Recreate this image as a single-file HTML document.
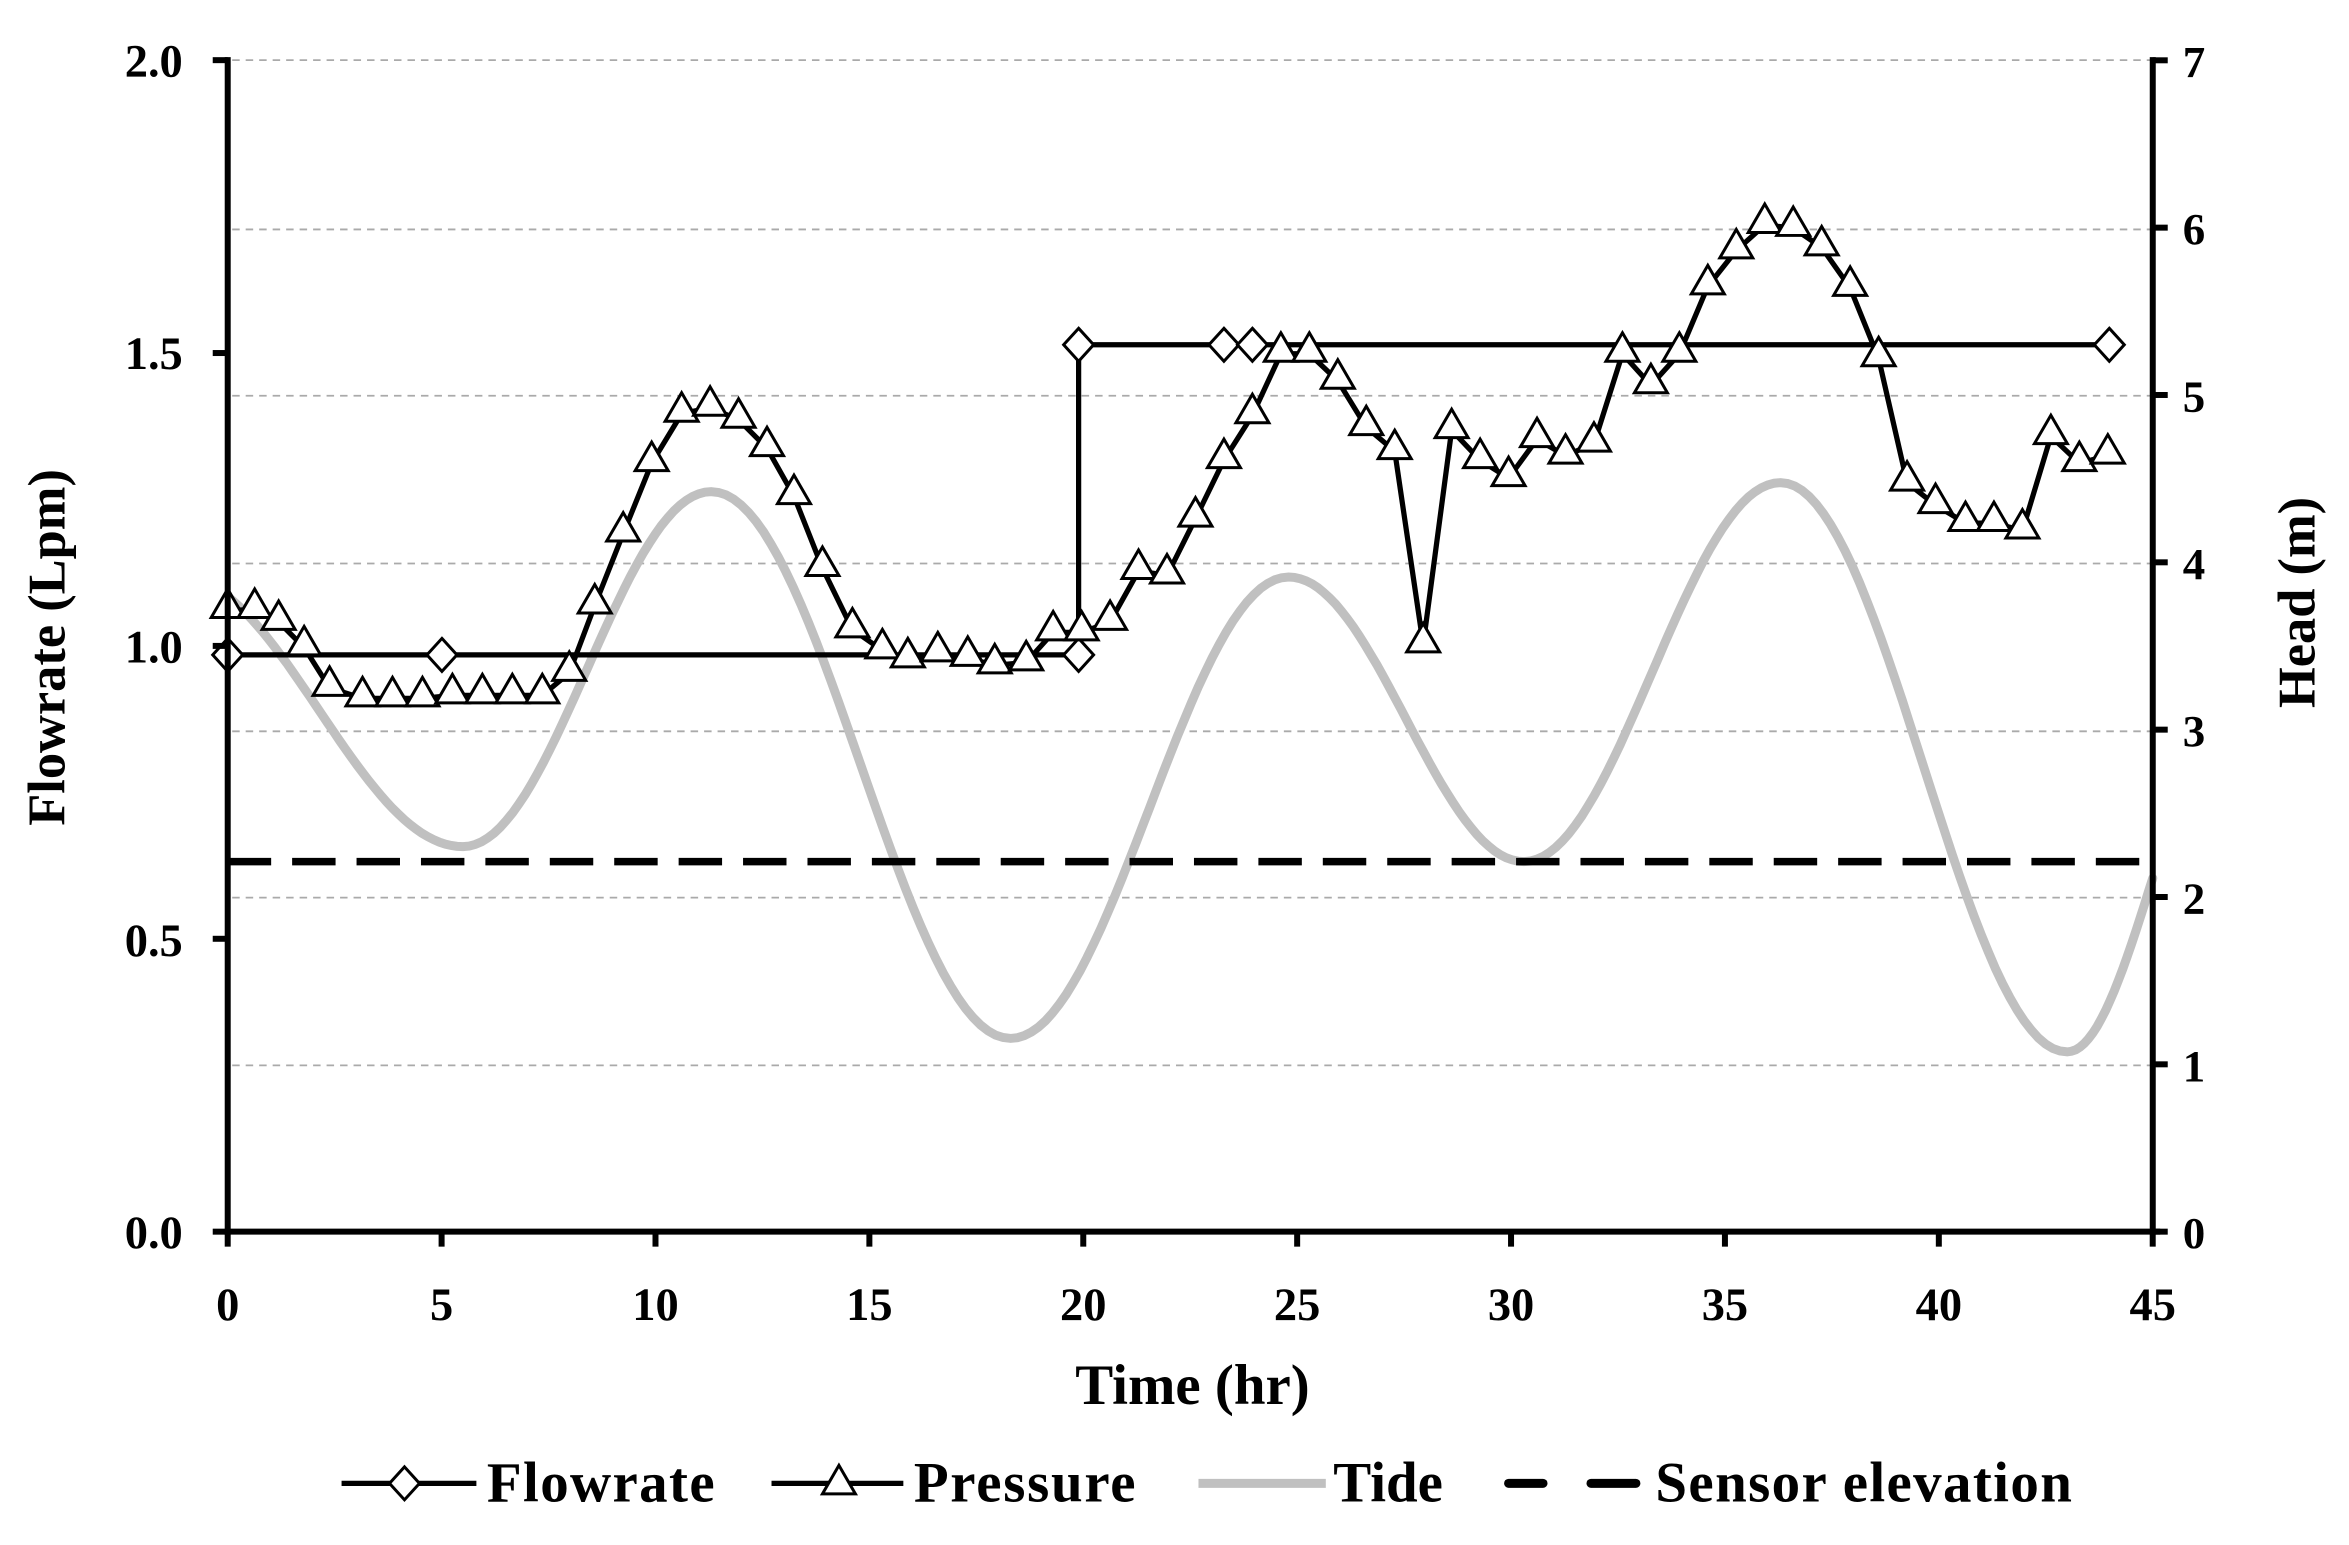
<!DOCTYPE html>
<html><head><meta charset="utf-8"><style>
html,body{margin:0;padding:0;background:#fff;}
svg{display:block;}
text{font-family:"Liberation Serif",serif;font-weight:bold;fill:#000;}
</style></head><body>
<svg id="s" width="2349" height="1545" viewBox="0 0 1568 1031" xmlns="http://www.w3.org/2000/svg">
<rect width="1568" height="1031" fill="#fff"/>
<g stroke="#aaa" stroke-width="1.2" stroke-dasharray="5,4">
<line x1="155" y1="40" x2="1437" y2="40"/>
<line x1="155" y1="153" x2="1437" y2="153"/>
<line x1="155" y1="264" x2="1437" y2="264"/>
<line x1="155" y1="376" x2="1437" y2="376"/>
<line x1="155" y1="488" x2="1437" y2="488"/>
<line x1="155" y1="599" x2="1437" y2="599"/>
<line x1="155" y1="711" x2="1437" y2="711"/>
</g>
<path id="tide" fill="none" stroke="#c0c0c0" stroke-width="6" stroke-linecap="round"/>
<line x1="152" y1="575" x2="1437" y2="575" stroke="#000" stroke-width="5" stroke-dasharray="29,14"/>
<g id="flow"></g>
<g id="pres"></g>
<g stroke="#000" stroke-width="4" fill="none">
<line x1="152" y1="38" x2="152" y2="824"/>
<line x1="1437" y1="38" x2="1437" y2="824"/>
<line x1="150" y1="822" x2="1442" y2="822"/>
</g>
<g id="ticks" stroke="#000" stroke-width="4"></g>
<g font-size="31" text-anchor="end">
<text x="122" y="51">2.0</text><text x="122" y="246">1.5</text><text x="122" y="442">1.0</text><text x="122" y="638">0.5</text><text x="122" y="833">0.0</text>
</g>
<g font-size="30" text-anchor="start" id="rl"></g>
<g font-size="31" text-anchor="middle" id="xl"></g>
<text x="796" y="937" font-size="38" text-anchor="middle">Time (hr)</text>
<text transform="translate(43,432) rotate(-90)" font-size="35" text-anchor="middle">Flowrate (Lpm)</text>
<text transform="translate(1545,402) rotate(-90)" font-size="35" text-anchor="middle">Head (m)</text>
<g id="leg"></g>
<g font-size="38">
<text x="325" y="1002" textLength="152">Flowrate</text>
<text x="610" y="1002" textLength="148">Pressure</text>
<text x="890" y="1002">Tide</text>
<text x="1105" y="1002" textLength="278">Sensor elevation</text>
</g>
</svg>
<script>
var NS="http://www.w3.org/2000/svg";
function el(p,t,a){var e=document.createElementNS(NS,t);for(var k in a)e.setAttribute(k,a[k]);p.appendChild(e);return e;}
function X(t){return 152+t*28.555;}
var tk=document.getElementById("ticks");
for(var i=0;i<=4;i++){var y=822-i*195.5;el(tk,"line",{x1:142,y1:y,x2:152,y2:y});}
for(var i=0;i<=7;i++){var y=822-i*111.7;el(tk,"line",{x1:1437,y1:y,x2:1447,y2:y});}
for(var i=0;i<=9;i++){var x=X(i*5);el(tk,"line",{x1:x,y1:822,x2:x,y2:832});}
var rl=document.getElementById("rl");
for(var i=0;i<=7;i++){var t=el(rl,"text",{x:1457,y:833-i*111.7});t.textContent=i;}
var xl=document.getElementById("xl");
for(var i=0;i<=9;i++){var t=el(xl,"text",{x:X(i*5),y:881});t.textContent=i*5;}
var ex=[[0,398],[5.5,565],[11.3,328],[18.3,693],[24.8,385],[30.3,575],[36.3,322],[43.0,702],[47.0,470]];
var d="";
for(var s=0;s<ex.length-1;s++){var a=ex[s],b=ex[s+1];
 for(var k=0;k<=40;k++){var f=k/40;var t=a[0]+(b[0]-a[0])*f;if(t>45.05)break;
  var y=a[1]+(b[1]-a[1])*(1-Math.cos(Math.PI*f))/2;
  if(s==0){var c0=(1-Math.cos(Math.PI*0.18))/2;y=398+(565-398)*((1-Math.cos(Math.PI*(0.18+0.82*f)))/2-c0)/(1-c0);}
  d+=(d?"L":"M")+X(t).toFixed(1)+","+y.toFixed(1);}
}
document.getElementById("tide").setAttribute("d",d);
var fl=document.getElementById("flow");
var fp=[[152,437],[720,437],[720,230],[1408,230]];
el(fl,"polyline",{points:fp.join(" "),fill:"none",stroke:"#000","stroke-width":3.5});
function dia(g,x,y){el(g,"path",{d:"M"+x+","+(y-11)+"L"+(x+10)+","+y+"L"+x+","+(y+11)+"L"+(x-10)+","+y+"Z",fill:"#fff",stroke:"#000","stroke-width":2});}
[[152,437],[295,437],[720,437],[720,230],[817,230],[836,230],[1408,230]].forEach(function(p){dia(fl,p[0],p[1]);});
var pp=[[152,403],[170,403],[186,411],[203,428],[220,455],[242,462],[262,462],[282,462],[302,460],[322,460],[342,460],[362,460],[380,445],[397,400],[416,352],[435,305],[455,272],[474,268],[493,276],[512,295],[530,327],[549,375],[569,416],[589,430],[606,436],[626,432],[646,435],[664,440],[685,438],[703,418],[722,418],[741,411],[760,377],[779,380],[798,342],[817,303],[836,273],[855,232],[874,232],[893,250],[912,281],[931,297],[950,426],[969,283],[988,303],[1007,315],[1026,289],[1045,300],[1064,292],[1083,232],[1102,253],[1121,232],[1140,187],[1159,163],[1178,146],[1197,148],[1216,161],[1235,188],[1254,235],[1273,318],[1292,333],[1312,345],[1331,345],[1350,350],[1369,287],[1388,305],[1407,300]];
var pg=document.getElementById("pres");
el(pg,"polyline",{points:pp.map(function(p){return p[0]+","+(p[1]+4);}).join(" "),fill:"none",stroke:"#000","stroke-width":3.5});
function tri(g,x,y){el(g,"path",{d:"M"+x+","+(y-10)+"L"+(x+11)+","+(y+9)+"L"+(x-11)+","+(y+9)+"Z",fill:"#fff",stroke:"#000","stroke-width":2});}
pp.forEach(function(p){tri(pg,p[0],p[1]);});
var lg=document.getElementById("leg");
el(lg,"line",{x1:228,y1:990,x2:318,y2:990,stroke:"#000","stroke-width":3.5});dia(lg,270,990);
el(lg,"line",{x1:515,y1:990,x2:603,y2:990,stroke:"#000","stroke-width":3.5});tri(lg,560,988);
el(lg,"line",{x1:800,y1:990,x2:885,y2:990,stroke:"#c0c0c0","stroke-width":6});
el(lg,"line",{x1:1007,y1:990,x2:1030,y2:990,stroke:"#000","stroke-width":6,"stroke-linecap":"round"});
el(lg,"line",{x1:1062,y1:990,x2:1092,y2:990,stroke:"#000","stroke-width":6,"stroke-linecap":"round"});
</script>
</body></html>
